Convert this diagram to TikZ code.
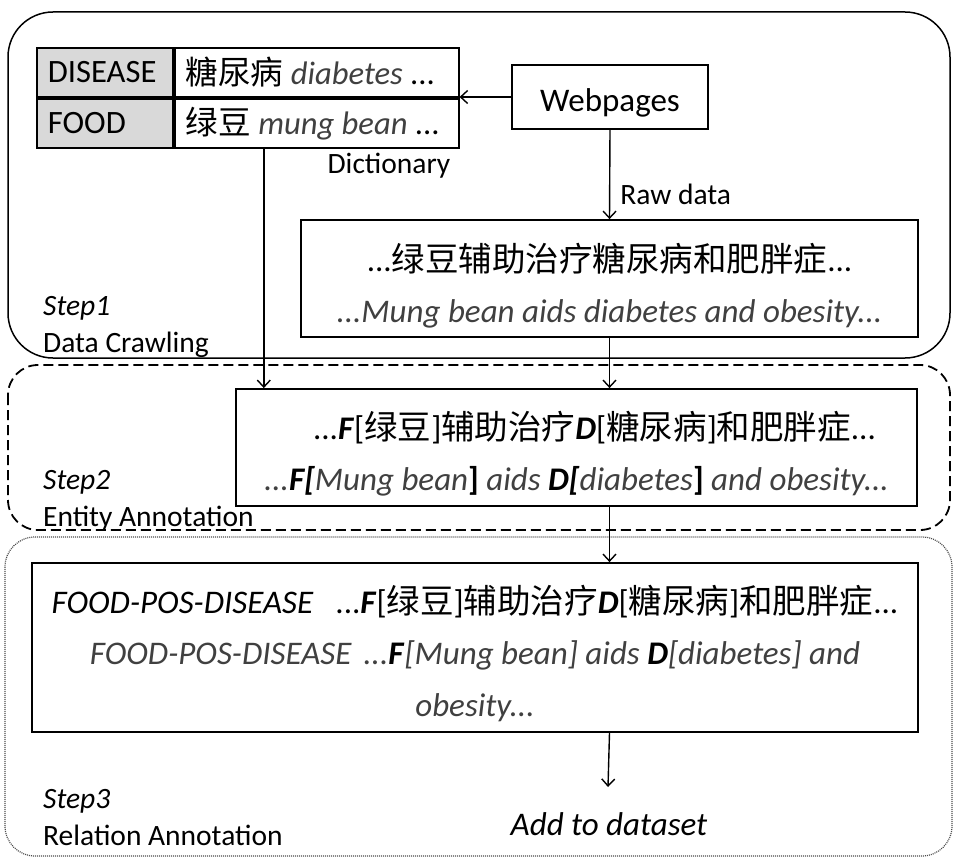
\documentclass[tikz,border=0pt]{standalone}
\usepackage{fontspec}
\setmainfont{Carlito}
\newfontfamily\cjk{Noto Sans CJK SC}
\usetikzlibrary{arrows.meta,positioning}
\definecolor{engray}{HTML}{404040}
\definecolor{cellgray}{HTML}{D9D9D9}
\newcommand{\zh}[1]{{\fontsize{33.5}{48}\selectfont\cjk #1}}
\newcommand{\en}[1]{{\color{engray}\itshape #1}}
\newcommand{\ent}[1]{\textbf{\textit{#1}}}
\newcommand{\tall}[1]{\rule{0pt}{#1}}
\tikzset{
	flow/.style={-{Straight Barb[length=7pt,width=13pt]}, line width=1.4pt},
	box/.style={draw, line width=1.8pt, inner sep=0pt},
	cell/.style={draw, line width=1.8pt, anchor=north west, minimum height=49pt,
		inner xsep=11pt, inner ysep=0pt, align=flush left, font=\fontsize{32.6}{40}\selectfont},
	note/.style={inner sep=0pt, font=\fontsize{29.5}{37}\selectfont},
	steplabel/.style={note, anchor=base west, align=flush left},
}

\begin{document}
\begin{tikzpicture}[x=1pt, y=-1pt, font=\fontsize{33}{48}\selectfont]
	\useasboundingbox (0,0) rectangle (956,864);
	
	% stage frames
	\draw[line width=1.5pt, rounded corners=45pt] (8,12) rectangle (950,358);
	\draw[line width=1.8pt, dash pattern=on 10pt off 5pt, rounded corners=30pt] (8,365) rectangle (950,530);
	\draw[line width=1.2pt, black!70, dash pattern=on 1pt off 1pt, rounded corners=30pt] (5,537) rectangle (952,856);
	
	% dictionary
	\node[cell, fill=cellgray, text width=114pt] (dis) at (36,47) {DISEASE};
	\node[cell, text width=262pt] (disv) at (dis.north east) {\mbox{{\cjk 糖尿病} \en{diabetes} ...}};
	\node[cell, fill=cellgray, text width=114pt] (food) at (dis.south west) {FOOD};
	\node[cell, text width=262pt] (foodv) at (food.north east) {\mbox{{\cjk 绿豆} \en{mung bean} ...}};
	\node[note, anchor=base east] (dictlab) at ([xshift=-9pt, yshift=-25pt]foodv.south east) {Dictionary};
	
	\node[box, minimum width=196pt, minimum height=64pt] (web) at (610,97) {\tall{35pt}Webpages};
	\node[box, minimum width=617pt, minimum height=117pt, align=flush center] (raw) at (609.5,278.5)
		{\tall{42pt}...\zh{绿豆辅助治疗糖尿病和肥胖症}...\\[3pt] \en{...Mung bean aids diabetes and obesity...}};
	\node[box, minimum width=681pt, minimum height=117pt, align=flush center] (ent) at (576.5,447.5)
		{\tall{41pt}\hspace*{36pt}...\ent{F}[\zh{绿豆}]\zh{辅助治疗}\ent{D}[\zh{糖尿病}]\zh{和肥胖症}...\\[3pt]
		 \en{...}\ent{F[}\en{Mung bean}\textbf{]} \en{aids} \ent{D[}\en{diabetes}\textbf{]} \en{and obesity...}};
	\node[box, minimum width=886pt, minimum height=169pt, text width=870pt, align=flush center,
		font=\fontsize{33}{51.5}\selectfont] (rel) at (475,647.5)
		{\tall{40pt}\textit{FOOD-POS-DISEASE}\hspace{22pt}...\ent{F}[\zh{绿豆}]\zh{辅助治疗}\ent{D}[\zh{糖尿病}]\zh{和肥胖症}...\\
		 \en{FOOD-POS-DISEASE\hspace{12pt}...}\ent{F}\en{[Mung bean] aids }\ent{D}\en{[diabetes] and}\\
		 \en{obesity...}};
	\node[anchor=base, inner sep=0pt] (add) at (609,835) {\textit{Add to dataset}};
	\coordinate (addin) at (608,787);
	
	\node[steplabel] (s1) at (43,352) {\textit{Step1}\\Data Crawling};
	\node[steplabel] (s2) at (43,526) {\textit{Step2}\\Entity Annotation};
	\node[steplabel] (s3) at (43,845) {\textit{Step3}\\Relation Annotation};
	
	% connectors
	\draw[flow] (web.west) -- (web.west -| disv.east);
	\draw[flow] (web.south) -- node[note, right=10pt, pos=0.72] {Raw data} (raw.north);
	\draw[flow] ([xshift=90pt]foodv.south west) -- ([xshift=90pt]foodv.south west |- ent.north);
	\draw[flow] (raw.south) -- (raw.south |- ent.north);
	\draw[flow] (raw.south |- ent.south) -- (raw.south |- rel.north);
	\draw[flow] (raw.south |- rel.south) -- (addin);
\end{tikzpicture}
\end{document}
